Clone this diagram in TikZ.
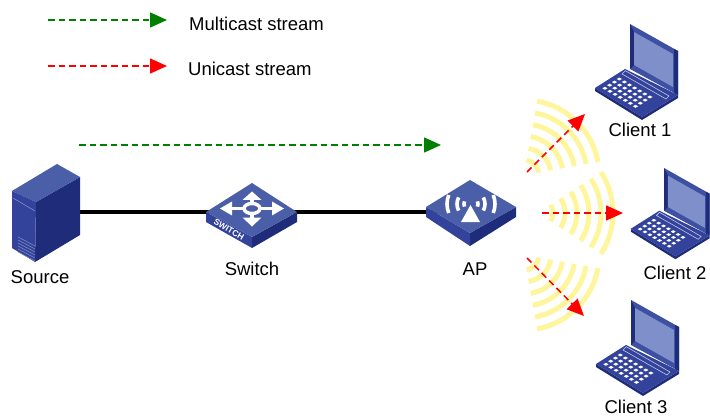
\documentclass[tikz,border=0pt]{standalone}
\usepackage{fontspec}
\setmainfont{Liberation Sans}
\usetikzlibrary{arrows.meta,calc}
\definecolor{topf}{HTML}{4A5FA8}
\definecolor{leftf}{HTML}{33439C}
\definecolor{rightf}{HTML}{1E2C7A}
\definecolor{screenf}{HTML}{7F8FC9}
\definecolor{lidf}{HTML}{3D50A2}
\definecolor{wavec}{HTML}{FFF59D}
\definecolor{mgreen}{HTML}{008000}
\tikzset{
  lbl/.style={font=\fontsize{18.5}{20}\selectfont,inner sep=0pt,text=black},
  backbone/.style={line width=4pt,black},
  wavearc/.style={line width=5pt,wavec},
  mstream/.style={mgreen,line width=1.5pt,dash pattern=on 6.5pt off 4pt,-{Triangle[length=17pt,width=15pt]}},
  ustream/.style={red,line width=1.5pt,dash pattern=on 6.5pt off 4pt,-{Triangle[length=17pt,width=15pt]}},
  iconwhite/.style={white,line width=3.4pt},
}
\newcommand{\laptopicon}[3]{%
\begin{scope}[shift={(#1,#2)},scale=#3]
  \fill[rightf] (-35,64)--(-35,67)--(12,96)--(48,74)--(48,71)--(12,93)--cycle;
  \fill[leftf] (-35,64)--(-5,45)--(48,71)--(12,93)--cycle;
  \draw[white!70!leftf,line width=.6pt] (-4.7,46.7)--(39,72)--(36,75)--(-8,50)--cycle;
  \foreach \i in {0,...,6}\foreach \j in {0,...,3}{
    \fill[white] ($(-10.7,55)+\i*(5.1,3)+\j*(-4.8,3.1)+(-2.6,0)$)--++(2.6,-1.5)--++(2.6,1.5)--++(-2.6,1.5)--cycle;}
  \fill[lidf] (0,0)--(48,27)--(48,71)--(0,45)--cycle;
  \fill[rightf] (44,25)--(48,27)--(48,71)--(44,69)--cycle;
  \fill[rightf] (0,0)--(4,8)--(4,41)--(0,45)--cycle;
  \fill[screenf] (4,8)--(43,30)--(43,63)--(4,41)--cycle;
\end{scope}}
\newcommand{\wavefan}[4]{%
\foreach \r in {15,27,39,51,63,75}
  \draw[wavearc,shift={(#1,#2)}] (#3:\r) arc[start angle=#3,end angle=#4,radius=\r];}
\begin{document}
\begin{tikzpicture}[x=1pt,y=-1pt]
\useasboundingbox (0,0) rectangle (710,417);
% named anchors
\coordinate (source) at (80,212.5);
\coordinate (switch) at (252,212.5);
\coordinate (ap) at (470,212.5);
\coordinate (lma) at (48,20); \coordinate (lmb) at (167,20);
\coordinate (lua) at (48,66); \coordinate (lub) at (167,66);
\coordinate (ma) at (79,145); \coordinate (mb) at (441,145);
\coordinate (ca) at (527,172); \coordinate (cb) at (585,114);
\coordinate (da) at (542,213); \coordinate (db) at (623,213);
\coordinate (ea) at (527,258); \coordinate (eb) at (584,316);
% links
\draw[backbone] (source) -- (switch);
\draw[backbone] (switch) -- (ap);
% server
\fill[rightf] (36,202)--(80,177)--(80,235)--(35,262)--cycle;
\fill[topf] (12,191)--(57,164)--(80,177)--(36,202)--cycle;
\fill[leftf] (12,191)--(36,202)--(35,262)--(12,248)--cycle;
\draw[white!45!leftf,line width=.5pt] (13,198)--(35,211);
\foreach \k in {0,...,5}
  \draw[white!40!leftf,line width=.5pt] (18,{237+\k*3})--(35,{246+\k*3});
% switch icon
\fill[rightf] (252,237)--(297,212)--(297,222)--(252,248)--cycle;
\fill[leftf] (206,212)--(252,237)--(252,248)--(206,222)--cycle;
\fill[topf] (252,183)--(297,212)--(252,237)--(206,212)--cycle;
\begin{scope}[shift={(252,208.5)}]
  \draw[iconwhite] (0,-5)--(0,-10) (0,5)--(0,10) (-8,0)--(-21,0) (8,0)--(21,0);
  \draw[iconwhite] (0,0) ellipse[x radius=8,y radius=5];
  \fill[white] (0,-17)--(9.5,-8.5)--(-9.5,-8.5)--cycle;
  \fill[white] (0,18)--(9.5,9)--(-9.5,9)--cycle;
  \fill[white] (-32,0)--(-20,-7)--(-20,7)--cycle;
  \fill[white] (32,0)--(20,-7)--(20,7)--cycle;
\end{scope}
\node[rotate=-30,font=\bfseries\fontsize{8.5}{9}\selectfont,text=white,inner sep=0pt] (swtext) at (229,229.5) {SWITCH};
% AP icon
\fill[rightf] (470,233)--(516,207)--(516,217)--(470,246)--cycle;
\fill[leftf] (426,207)--(470,233)--(470,246)--(426,217)--cycle;
\fill[topf] (470,180)--(516,207)--(470,233)--(426,207)--cycle;
\fill[white] (470.5,205)--(480,222)--(461,222)--cycle;
\begin{scope}[shift={(471,204)}]
  \foreach \r/\h in {7/22,14/28,24/22}{
    \draw[white,line width=3.6pt] (180-\h:\r) arc[start angle=180-\h,end angle=180+\h,radius=\r];
    \draw[white,line width=3.6pt] (-\h:\r) arc[start angle=-\h,end angle=\h,radius=\r];}
\end{scope}
% laptops
\laptopicon{630}{24}{1}
\laptopicon{664}{168}{.95}
\laptopicon{631}{300}{1}
% waves
\wavefan{524}{175}{-10}{-80}
\wavefan{538}{213}{-33}{33}
\wavefan{524}{255}{10}{80}
% streams
\draw[mstream] (lma) -- (lmb);
\draw[ustream] (lua) -- (lub);
\draw[mstream] (ma) -- (mb);
\draw[ustream] (ca) -- (cb);
\draw[ustream] (da) -- (db);
\draw[ustream] (ea) -- (eb);
% labels
\node[lbl,anchor=west] (lm) at (189,24) {Multicast stream};
\node[lbl,anchor=west] (lu) at (188,69) {Unicast stream};
\node[lbl] (lsource) at (40,277) {Source};
\node[lbl] (lswitch) at (252,269) {Switch};
\node[lbl] (lap) at (475,269) {AP};
\node[lbl] (lc1) at (640,130) {Client 1};
\node[lbl] (lc2) at (675,273) {Client 2};
\node[lbl] (lc3) at (636,407) {Client 3};
\end{tikzpicture}
\end{document}
